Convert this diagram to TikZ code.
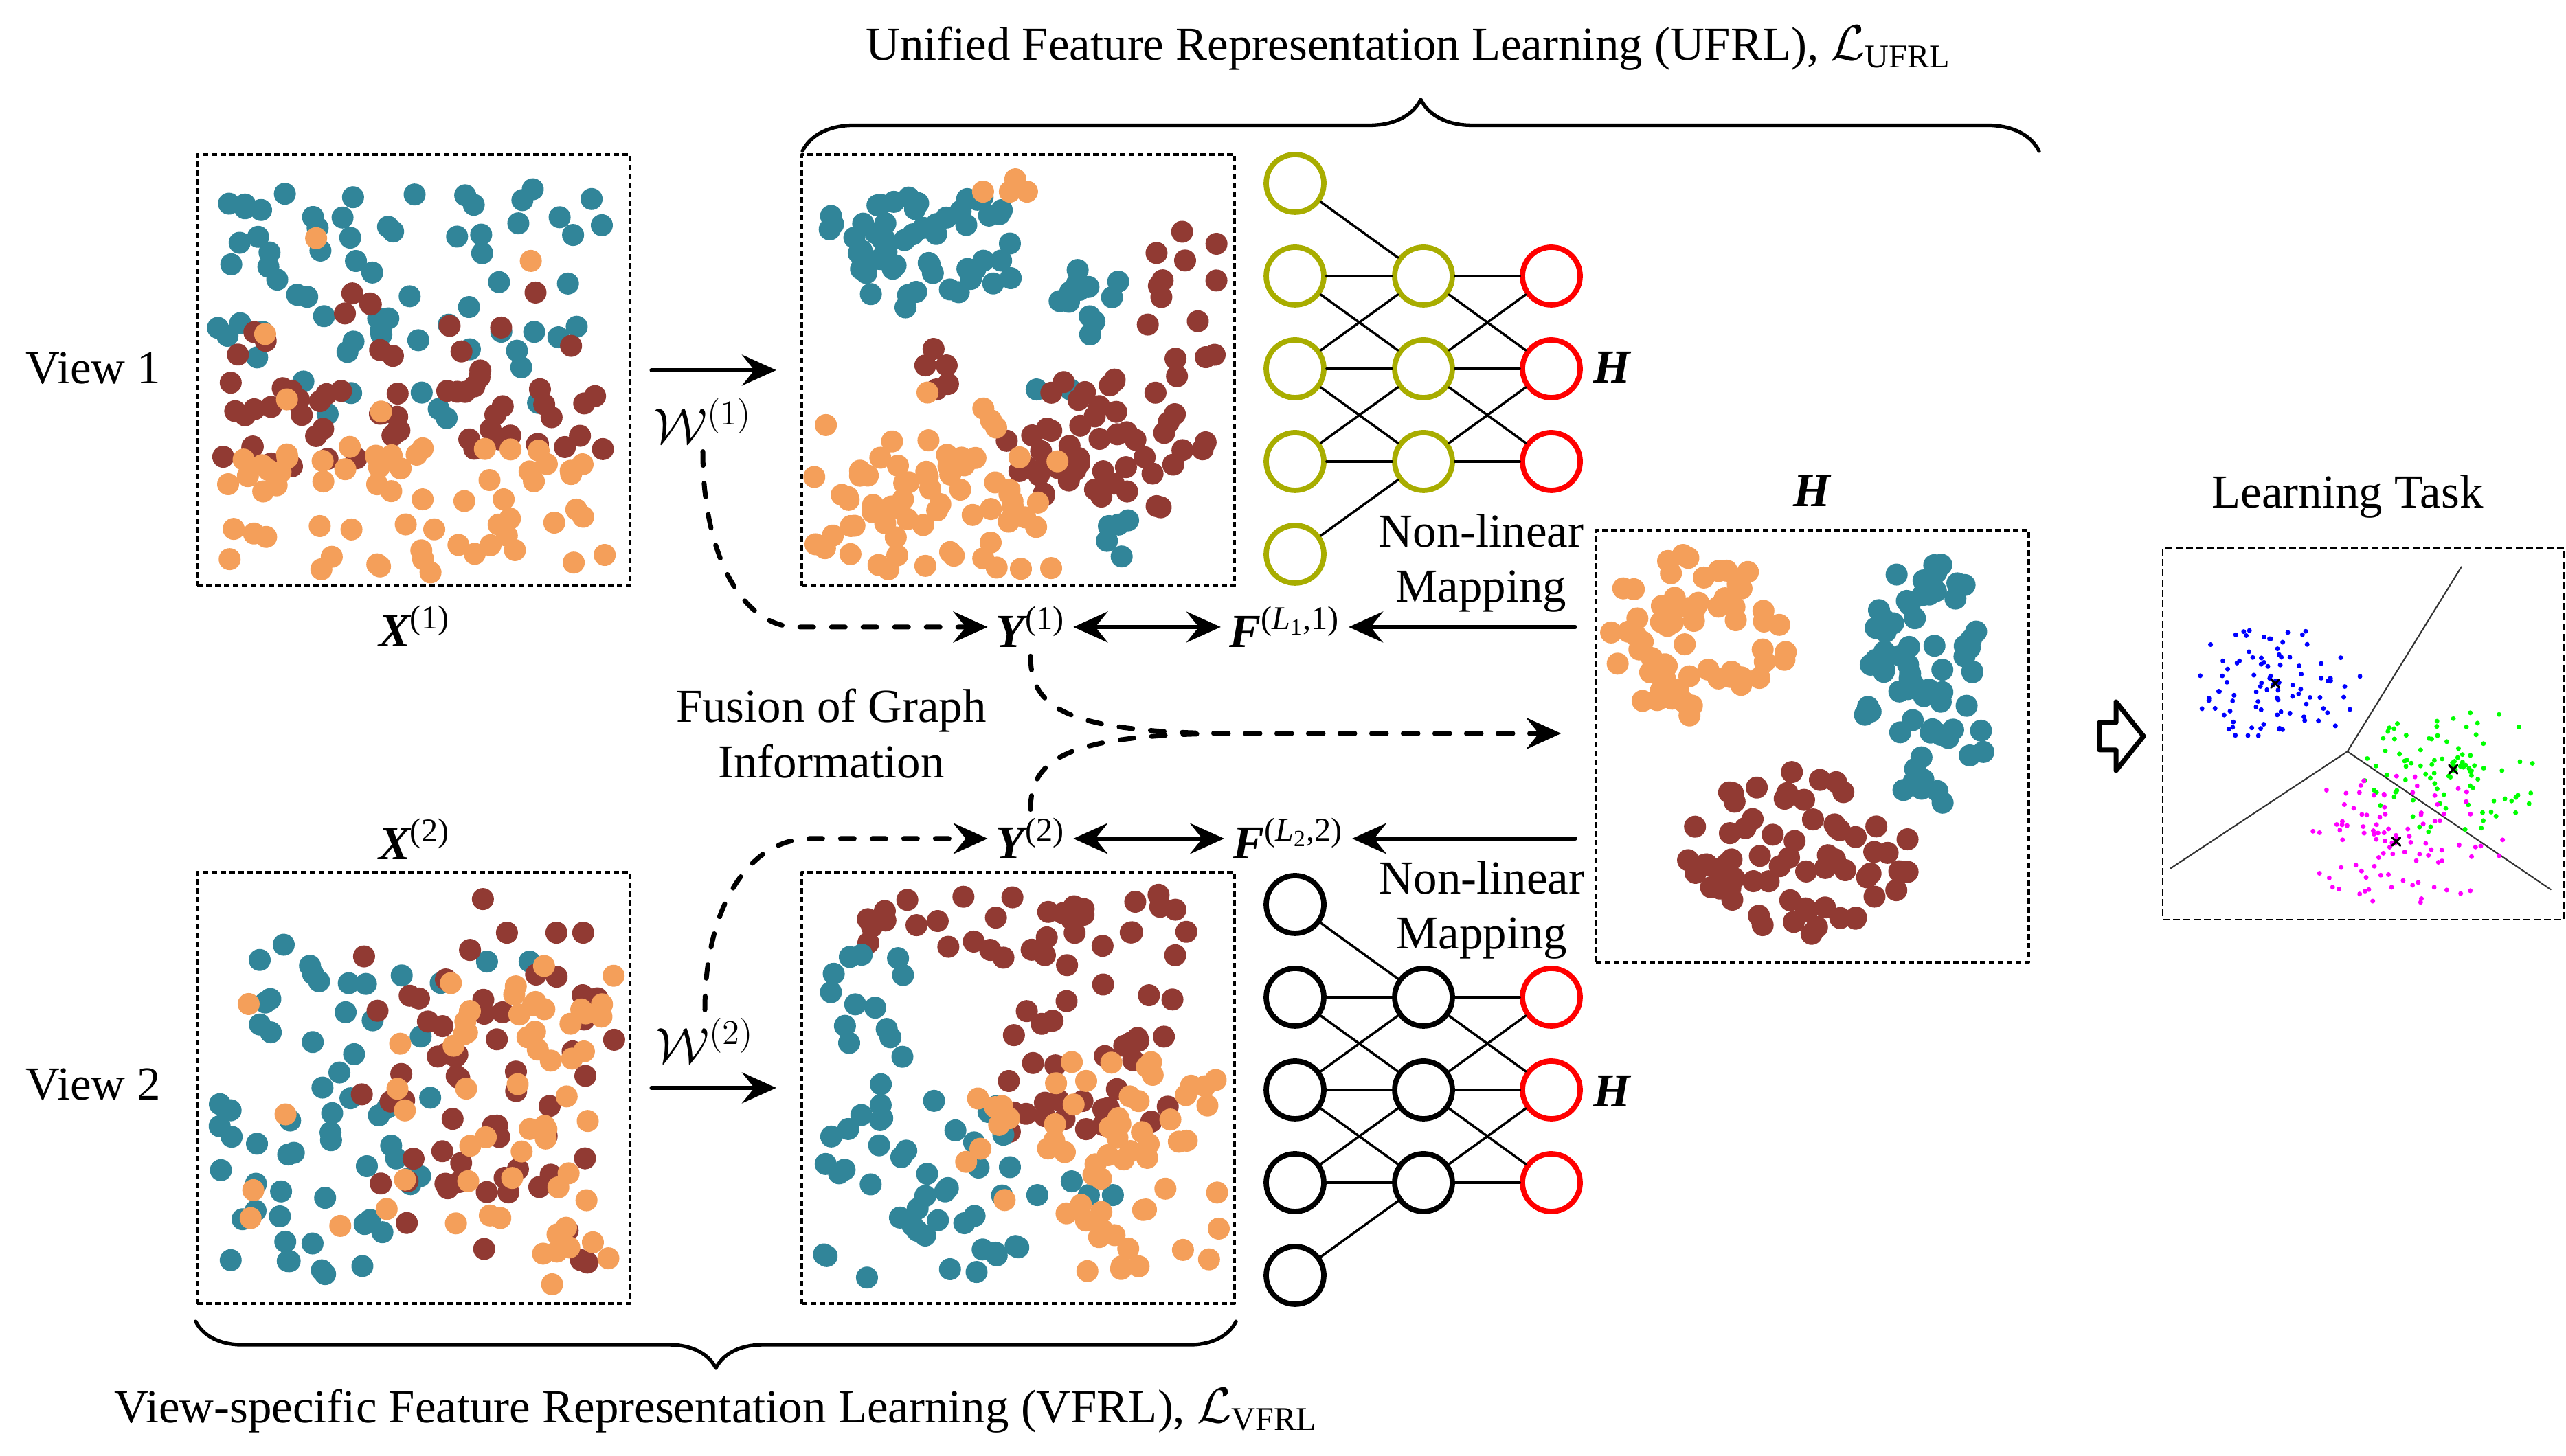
\documentclass[tikz,border=0pt]{standalone}
\usepackage{fontspec}
\setmainfont{Liberation Serif}
\usetikzlibrary{arrows.meta,decorations.pathreplacing,positioning}

\definecolor{teal1}{RGB}{49,133,153}
\definecolor{orange1}{RGB}{244,159,90}
\definecolor{brown1}{RGB}{145,58,51}
\definecolor{olive1}{RGB}{168,173,0}
\definecolor{blue1}{RGB}{0,0,255}
\definecolor{green1}{RGB}{0,255,0}
\definecolor{magenta1}{RGB}{255,0,255}

% n dots of colour #1 spread over the rectangle (#3,#4)-(#5,#6)
\newcommand{\dotrect}[6]{%
  \foreach \k in {1,...,#2}{%
    \pgfmathsetmacro{\px}{#3+(#5-#3)*rnd}%
    \pgfmathsetmacro{\py}{#4+(#6-#4)*rnd}%
    \fill[#1] (\px,\py) circle (\R);
  }}
% n dots of colour #1 in an ellipse round (#3,#4), radii #5 and #6
\newcommand{\dotblob}[6]{%
  \foreach \k in {1,...,#2}{%
    \pgfmathsetmacro{\pa}{360*rnd}%
    \pgfmathsetmacro{\pr}{rnd^\dens}%
    \fill[#1] ({#3+#5*\pr*cos(\pa)},{#4+#6*\pr*sin(\pa)}) circle (\R);
  }}

\begin{document}
\begin{tikzpicture}[line cap=round, line join=round,
  txt/.style={font=\fontsize{19.6}{23}\selectfont},
  databox/.style={draw, line width=1.2pt, line cap=butt, dash pattern=on 0.08cm off 0.05cm,
    minimum width=6.3cm, minimum height=6.28cm, inner sep=0pt},
  neuron/.style={circle, line width=2.2pt, minimum size=0.84cm, inner sep=0pt},
  link/.style={line width=1pt},
  flow/.style={line width=1.5pt, -{Stealth[length=0.5cm, width=0.45cm, inset=0.18cm]}},
  bothflow/.style={line width=1.5pt,
    {Stealth[length=0.5cm, width=0.45cm, inset=0.18cm]}-{Stealth[length=0.5cm, width=0.45cm, inset=0.18cm]}},
  dflow/.style={line width=2pt, dash pattern=on 0.2cm off 0.26cm,
    -{Stealth[length=0.5cm, width=0.45cm, inset=0.18cm]}},
  curly/.style={decorate, decoration={brace, amplitude=#1}, line width=1.5pt}]

\useasboundingbox (0,0) rectangle (37.35,21.2);

% -----------------------
% Parameters
% -----------------------
\def\R{0.16}       % dot radius
\def\dens{0.5}     % 0.5 = even spread in a blob, lower = denser core
\pgfmathsetseed{7}

% -----------------------
% Data boxes
% -----------------------
\node[databox] (x1box) at (6.02,15.81) {};
\node[databox] (y1box) at (14.82,15.81) {};
\node[databox] (x2box) at (6.02,5.36) {};
\node[databox] (y2box) at (14.82,5.36) {};
\node[databox, minimum height=6.29cm] (hbox) at (26.38,10.335) {};
\node[draw, line width=0.7pt, line cap=butt, dash pattern=on 0.1cm off 0.05cm,
  minimum width=5.84cm, minimum height=5.41cm, inner sep=0pt] (taskbox) at (34.40,10.515) {};

% View 1, raw data
\begin{scope}[shift={(x1box.south west)}]
  \dotrect{teal1}{60}{0.3}{3.3}{6.0}{5.8}
  \dotrect{teal1}{8}{1.0}{2.4}{5.5}{3.3}
  \dotrect{brown1}{18}{0.4}{2.9}{6.1}{4.5}
  \dotrect{brown1}{48}{0.4}{1.75}{6.0}{2.9}
  \dotrect{orange1}{62}{0.2}{0.2}{6.1}{2.1}
  \dotrect{orange1}{5}{0.5}{2.5}{5.0}{5.9}
\end{scope}

% View 1, after graph learning
\begin{scope}[shift={(y1box.south west)}]
  \dotblob{teal1}{58}{1.78}{4.97}{1.5}{0.98}
  \dotblob{teal1}{12}{4.15}{4.2}{0.55}{0.7}
  \dotblob{teal1}{5}{4.65}{0.75}{0.35}{0.35}
  \foreach \x/\y in {3.44/2.88,3.93/2.88} \fill[teal1] (\x,\y) circle (\R);
  \foreach \x/\y in {2.66/5.76,3.13/5.94,3.05/5.76,3.3/5.76} \fill[orange1] (\x,\y) circle (\R);
  \foreach \x/\y in {1.94/3.47,1.82/3.23,2.13/3.23,1.98/2.88,2.15/2.96} \fill[brown1] (\x,\y) circle (\R);
  \dotrect{brown1}{14}{5.0}{3.0}{6.1}{5.3}
  \dotblob{brown1}{52}{4.5}{2.05}{1.5}{1.05}
  \dotrect{orange1}{62}{0.2}{0.25}{3.75}{1.9}
  \dotrect{orange1}{8}{0.3}{1.9}{2.9}{2.9}
\end{scope}

% View 2, raw data
\begin{scope}[shift={(x2box.south west)}]
  \dotrect{teal1}{38}{0.2}{0.4}{3.3}{3.0}
  \dotrect{teal1}{22}{0.5}{3.0}{3.6}{5.8}
  \foreach \x/\y in {4.24/5.0,4.86/5.0} \fill[teal1] (\x,\y) circle (\R);
  \dotrect{brown1}{58}{2.4}{0.6}{6.1}{5.2}
  \foreach \x/\y in {4.18/5.91,4.53/5.42,5.25/5.42,5.64/5.42} \fill[brown1] (\x,\y) circle (\R);
  \dotrect{orange1}{52}{3.6}{0.3}{6.1}{5.0}
  \dotrect{orange1}{10}{0.3}{1.0}{3.3}{4.5}
\end{scope}

% View 2, after graph learning
\begin{scope}[shift={(y2box.south west)}]
  \dotrect{brown1}{32}{0.9}{5.1}{5.9}{6.0}
  \dotrect{brown1}{34}{2.9}{2.5}{5.6}{5.1}
  \foreach \x/\y in {4.41/2.85,4.16/2.56,4.41/2.62} \fill[brown1] (\x,\y) circle (\R);
  \dotrect{teal1}{14}{0.3}{3.1}{1.5}{5.1}
  \dotrect{teal1}{44}{0.3}{0.3}{3.2}{3.0}
  \foreach \x/\y in {3.45/1.6,3.95/1.8,4.2/1.6,4.55/1.6} \fill[teal1] (\x,\y) circle (\R);
  \dotrect{orange1}{55}{3.6}{0.3}{6.1}{3.6}
  \dotrect{orange1}{8}{2.4}{1.4}{3.6}{3.2}
\end{scope}

% Unified representation H
\begin{scope}[shift={(hbox.south west)}]
  \dotblob{orange1}{68}{1.48}{4.79}{1.35}{1.2}
  \dotblob{teal1}{72}{4.85}{4.1}{1.0}{1.8}
  \dotblob{brown1}{68}{3.0}{1.6}{1.65}{1.25}
\end{scope}

% Learning task (clustering)
\begin{scope}[shift={(taskbox.south west)}]
  \def\R{0.035}
  \def\dens{0.8}
  \draw[line width=0.6pt, black!80] (2.70,2.46) -- (4.36,5.15)
    (2.70,2.46) -- (0.13,0.76) (2.70,2.46) -- (5.66,0.45);
  \dotblob{blue1}{100}{1.65}{3.45}{1.3}{0.85}
  \dotblob{green1}{100}{4.24}{2.20}{1.35}{0.95}
  \dotblob{magenta1}{100}{3.41}{1.15}{1.6}{1.0}
  \foreach \cx/\cy in {1.65/3.45,4.24/2.20,3.41/1.15}
    \draw[line width=0.9pt] ({\cx-0.06},{\cy-0.06}) -- ({\cx+0.06},{\cy+0.06})
      ({\cx-0.06},{\cy+0.06}) -- ({\cx+0.06},{\cy-0.06});
\end{scope}

% -----------------------
% Labels
% -----------------------
\node[txt] (view1) at (1.36,15.84) {View 1};
\node[txt] (view2) at (1.36,5.41) {View 2};
\node[txt] (x1) at (6.03,12.08) {{\bfseries\itshape X}\textsuperscript{(1)}};
\node[txt] (x2) at (6.03,8.98) {{\bfseries\itshape X}\textsuperscript{(2)}};
\node[txt] (w1) at (10.23,15.07) {$\mathcal{W}^{(1)}$};
\node[txt] (w2) at (10.26,6.05) {$\mathcal{W}^{(2)}$};
\node[txt] (y1) at (15.0,12.07) {{\bfseries\itshape Y}\textsuperscript{(1)}};
\node[txt] (y2) at (15.0,8.99) {{\bfseries\itshape Y}\textsuperscript{(2)}};
\node[txt] (f1) at (18.70,12.07) {{\bfseries\itshape F}\textsuperscript{(\textit{L}\textsubscript{1},1)}};
\node[txt] (f2) at (18.75,8.99) {{\bfseries\itshape F}\textsuperscript{(\textit{L}\textsubscript{2},2)}};
\node[txt, align=center] (fusion) at (12.10,10.52) {Fusion of Graph\\Information};
\node[txt, align=center] (map1) at (21.56,13.0) {Non-linear\\Mapping};
\node[txt, align=center] (map2) at (21.57,7.95) {Non-linear\\Mapping};
\node[txt] (hlab) at (26.37,14.05) {\bfseries\itshape H};
\node[txt, anchor=base] (tasklab) at (34.17,13.80) {Learning Task};
\node[txt, anchor=base] (ufrl) at (20.50,20.32)
  {Unified Feature Representation Learning (UFRL), $\mathcal{L}$\textsubscript{UFRL}};
\node[txt, anchor=base] (vfrl) at (10.42,0.48)
  {View-specific Feature Representation Learning (VFRL), $\mathcal{L}$\textsubscript{VFRL}};

% -----------------------
% Non-linear mapping networks (top: view 1, bottom: view 2)
% -----------------------
\foreach \t/\dy/\col in {u/0/olive1, v/-10.5/black}{
  \foreach \n in {1,...,5}
    \node[neuron, draw=\col] (\t i\n) at (18.85,{18.53-1.35*(\n-1)+\dy}) {};
  \foreach \n in {1,2,3}{
    \node[neuron, draw=\col] (\t h\n) at (20.72,{17.18-1.35*(\n-1)+\dy}) {};
    \node[neuron, draw=red] (\t o\n) at (22.58,{17.18-1.35*(\n-1)+\dy}) {};
  }
  \foreach \i/\j in {1/1,2/1,2/2,3/1,3/2,3/3,4/2,4/3,5/3}
    \draw[link] (\t i\i) -- (\t h\j);
  \foreach \i/\j in {1/1,1/2,2/1,2/2,2/3,3/2,3/3}
    \draw[link] (\t h\i) -- (\t o\j);
}
\node[txt] (hu) at (23.46,15.85) {\bfseries\itshape H};
\node[txt] (hv) at (23.46,5.31) {\bfseries\itshape H};

% -----------------------
% Arrows
% -----------------------
\draw[flow, shorten <=0.29cm, shorten >=0.35cm] (x1box) -- (y1box);
\draw[flow, shorten <=0.29cm, shorten >=0.35cm] (x2box) -- (y2box);
\draw[bothflow] (y1) -- (f1);
\draw[bothflow] (y2) -- (f2);
\draw[flow, shorten <=0.28cm] (hbox.west |- f1) -- (f1);
\draw[flow, shorten <=0.28cm] (hbox.west |- f2) -- (f2);

% graph information
\draw[dflow] (w1.south) .. controls +(0,-1.5) and +(-0.8,0) .. (11.6,0 |- y1.west) -- (y1.west);
\draw[dflow] (w2.north) .. controls +(0,1.5) and +(-0.9,0) .. (11.8,0 |- y2.west) -- (y2.west);

% fusion
\coordinate (fuse) at (22.72,10.52);
\draw[dflow] (y1.south) .. controls (15.0,10.9) and (15.5,10.52) .. (18.0,10.52) -- (fuse);
\draw[dflow] (y2.north) .. controls (15.0,10.14) and (15.5,10.52) .. (18.0,10.52) -- (fuse);

% hollow arrow to the learning task
\draw[line width=2pt, fill=white] (30.56,10.28) -- (30.80,10.28) -- (30.80,9.98) -- (31.20,10.48)
  -- (30.80,10.98) -- (30.80,10.68) -- (30.56,10.68) -- cycle;

% -----------------------
% Braces
% -----------------------
\draw[curly=0.75cm] (11.68,19.0) -- (29.68,19.0);
\draw[curly=0.68cm] ([yshift=-0.24cm]y2box.south east) -- ([yshift=-0.24cm]x2box.south west);

\end{tikzpicture}
\end{document}
